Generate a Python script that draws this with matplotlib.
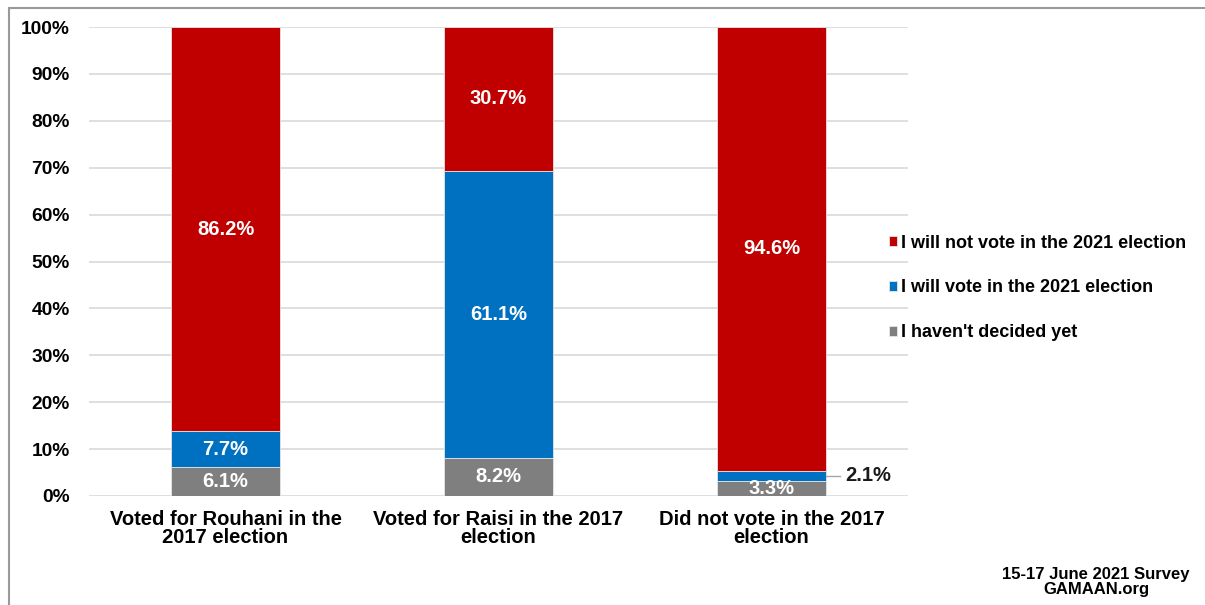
import numpy as np
import matplotlib.pyplot as plt
from matplotlib.patches import Rectangle

plt.rcParams['font.family'] = ['Liberation Sans', 'DejaVu Sans']
plt.rcParams['font.weight'] = 'bold'

groups = ['Voted for Rouhani in the\n2017 election',
          'Voted for Raisi in the 2017\nelection',
          'Did not vote in the 2017\nelection']
undecided = [6.1, 8.2, 3.3]
will_vote = [7.7, 61.1, 2.1]
not_vote = [86.2, 30.7, 94.6]

series = [
    ("I haven't decided yet", undecided, '#7f7f7f'),
    ('I will vote in the 2021 election', will_vote, '#0070c0'),
    ('I will not vote in the 2021 election', not_vote, '#c00000'),
]

fig = plt.figure(figsize=(12.05, 6.05), dpi=100)
ax = fig.add_axes([89 / 1205, 1 - 496 / 605, 819 / 1205, 469 / 605])

# frame around the whole chart (bottom/right cut off)
fig.patches.append(Rectangle((9 / 1205, -0.1), 1.2, 1 - 8 / 605 + 0.1,
                             transform=fig.transFigure, fill=False,
                             edgecolor='#999999', linewidth=1.5))

x = np.arange(len(groups))
width = 0.40
bottom = np.zeros(len(groups))
handles = {}
for name, vals, color in series:
    vals = np.array(vals)
    bars = ax.bar(x, vals, width, bottom=bottom, color=color,
                  edgecolor='#e6e6e6', linewidth=0.6, label=name, zorder=3)
    handles[name] = bars
    for i, v in enumerate(vals):
        if name == 'I will vote in the 2021 election' and i == 2:
            # small segment: label outside with a leader line
            yc = bottom[i] + v / 2
            ax.plot([x[i] + width / 2, x[i] + width / 2 + 0.05], [yc, yc],
                    color='#a6a6a6', linewidth=1, clip_on=False, zorder=4)
            ax.text(x[i] + width / 2 + 0.07, yc, f'{v}%', ha='left',
                    va='center', fontsize=14.5, color='#1a1a1a', zorder=5)
            continue
        ax.text(x[i], bottom[i] + v / 2, f'{v}%', ha='center', va='center',
                fontsize=14.5, color='white', zorder=5)
    bottom += vals

ax.set_xlim(-0.5, 2.5)
ax.set_ylim(0, 100)
ax.set_yticks(np.arange(0, 101, 10))
ax.set_yticklabels([f'{t}%' for t in range(0, 101, 10)])
ax.set_xticks(x)
ax.set_xticklabels(groups, fontsize=14.5, linespacing=0.95)
ax.tick_params(axis='y', labelsize=13.8, length=0, pad=14)
ax.tick_params(axis='x', length=0, pad=10)
ax.grid(axis='y', color='#d9d9d9', linewidth=1.2, zorder=0)
for s in ax.spines.values():
    s.set_visible(False)

leg_order = ['I will not vote in the 2021 election',
             'I will vote in the 2021 election',
             "I haven't decided yet"]
leg = fig.legend([handles[n] for n in leg_order], leg_order,
                 loc='center left', bbox_to_anchor=(873 / 1205, 1 - 288 / 605),
                 frameon=False, fontsize=13.0, handlelength=0.45,
                 handleheight=0.45, handletextpad=0.2, labelspacing=1.55)

fig.text(1096 / 1205, 1 - 582 / 605, '15-17 June 2021 Survey\nGAMAAN.org',
         ha='center', va='center', fontsize=12, linespacing=1.0,
         multialignment='center')

fig.savefig('out.png', dpi=100)
